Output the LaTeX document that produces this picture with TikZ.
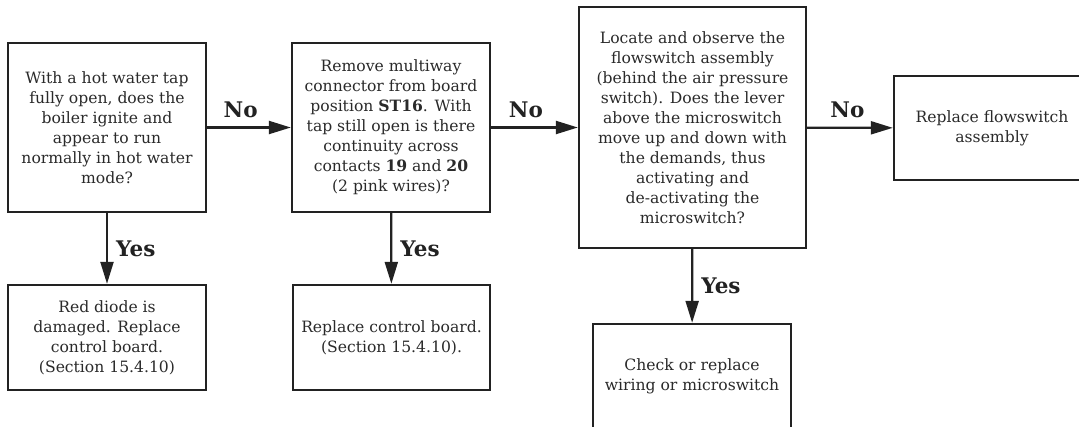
\documentclass[tikz,border=0pt]{standalone}
\usepackage{fontspec}
\setmainfont{DejaVu Serif}
\usetikzlibrary{arrows.meta}
\definecolor{ink}{HTML}{222222}
\definecolor{txt}{HTML}{2A2A2A}
\begin{document}
\begin{tikzpicture}[x=1pt,y=-1pt,
  box/.style={draw=ink,line width=2.4pt,inner sep=0pt,align=center,text=txt,
    font=\fontsize{15.6}{20}\selectfont},
  arr/.style={draw=ink,line width=2.2pt,-{Triangle[length=22pt,width=13pt]}},
  lab/.style={font=\fontsize{21.5}{24}\selectfont\bfseries,text=ink,inner sep=0pt}]
\useasboundingbox (0,0) rectangle (1079,426);
\fill[white] (0,0) rectangle (1079,426);
\clip (0,0) rectangle (1079,426);

\node[box,minimum width=198pt,minimum height=169pt] (A) at (107,127.5)
  {With a hot water tap\\fully open, does the\\boiler ignite and\\appear to run\\normally in hot water\\mode?};
\node[box,minimum width=198pt,minimum height=169pt] (B) at (391,127.5)
  {Remove multiway\\connector from board\\position \textbf{ST16}. With\\tap still open is there\\continuity across\\contacts \textbf{19} and \textbf{20}\\(2 pink wires)?};
\node[box,minimum width=227pt,minimum height=241pt] (C) at (692.5,127.5)
  {Locate and observe the\\flowswitch assembly\\(behind the air pressure\\switch). Does the lever\\above the microswitch\\move up and down with\\the demands, thus\\activating and\\de-activating the\\microswitch?};
\node[box,minimum width=196pt,minimum height=104pt] (D) at (992,128)
  {Replace flowswitch\\assembly};
\node[box,minimum width=198pt,minimum height=105pt] (E) at (107,337.5)
  {Red diode is\\damaged. Replace\\control board.\\(Section 15.4.10)};
\node[box,minimum width=197pt,minimum height=105pt] (F) at (391.5,337.5)
  {Replace control board.\\(Section 15.4.10).};
\node[box,minimum width=198pt,minimum height=104pt] (G) at (692,376)
  {Check or replace\\wiring or microswitch};

\draw[arr] (A) -- node[lab,above=9pt,pos=0.4] (n1) {No} (B);
\draw[arr] (B) -- node[lab,above=9pt,pos=0.4] (n2) {No} (C);
\draw[arr] (C) -- node[lab,above=9pt,pos=0.47] (n3) {No} (D);
\draw[arr] (A) -- node[lab,right=8pt,pos=0.5] (y1) {Yes} (E);
\draw[arr] (B) -- node[lab,right=8pt,pos=0.5] (y2) {Yes} (F);
\draw[arr] (C) -- node[lab,right=8pt,pos=0.5] (y3) {Yes} (G);
\end{tikzpicture}
\end{document}
